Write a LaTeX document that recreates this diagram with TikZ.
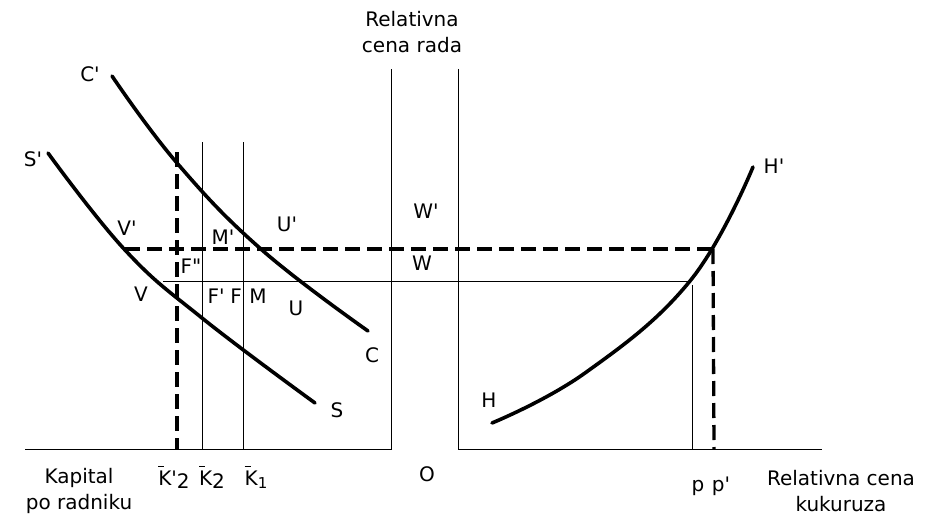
\documentclass[tikz,border=0pt]{standalone}
\usepackage{fontspec}
\setmainfont{DejaVu Sans}
\newcommand{\kbar}{\rlap{\raisebox{0.9em}{\rule{0.3em}{0.07em}}}K}
\newcommand{\qq}{\textquotesingle}
\begin{document}
\begin{tikzpicture}[x=1pt,y=-1pt,
  thinln/.style={line width=0.9pt},
  curveln/.style={line width=3.6pt, line cap=round},
  dashln/.style={line width=3.3pt, dash pattern=on 15pt off 7pt},
  lbl/.style={inner sep=0pt, font=\fontsize{20}{26}\selectfont},
  lbltwo/.style={lbl, align=center}]
\useasboundingbox (0,0) rectangle (936,516);
% coordinates
\coordinate (LB) at (25,449);
\coordinate (LR) at (391,449);
\coordinate (LT) at (391,69);
\coordinate (RO) at (458,449);
\coordinate (RT) at (458,69);
\coordinate (RE) at (822,449);
% axes
\draw[thinln] (LB) -- (LR) -- (LT);
\draw[thinln] (RT) -- (RO) -- (RE);
% thin verticals and horizontal
\coordinate (K2t) at (202,142); \coordinate (K2b) at (202,449);
\coordinate (K1t) at (243,142); \coordinate (K1b) at (243,449);
\draw[thinln] (K2t) -- (K2b);
\draw[thinln] (K1t) -- (K1b);
\coordinate (Ws) at (163,281); \coordinate (We) at (690,281);
\draw[thinln] (Ws) -- (We);
\coordinate (pt) at (692,285); \coordinate (pb) at (692,449);
\draw[thinln] (pt) -- (pb);
% dashed
\coordinate (Ds) at (125,249); \coordinate (De) at (713,249);
\draw[dashln] (Ds) -- (De);
\coordinate (Kdt) at (177,152); \coordinate (Kdb) at (177,449);
\draw[dashln] (Kdt) -- (Kdb);
\coordinate (pdb) at (714,449);
\draw[dashln] (De) -- (pdb);
% curves
\draw[curveln] plot[smooth, tension=0.7] coordinates {(112,76) (177,163) (262,250) (368,331)};
\draw[curveln] plot[smooth, tension=0.7] coordinates {(48,153) (125,250) (202,318) (315,403)};
\draw[curveln] plot[smooth, tension=0.7] coordinates {(492,423) (585,373) (690,281) (753,167)};
% labels
\node[lbltwo] (yl) at (412,32) {Relativna\\cena rada};
\node[lbl] (Cp) at (90,74) {C\qq};
\node[lbl] (Sp) at (33,159) {S\qq};
\node[lbl] (Wp) at (426,211) {W\qq};
\node[lbl] (W) at (422,263) {W};
\node[lbl] (Vp) at (127,228) {V\qq};
\node[lbl] (Mp) at (223,237) {M\qq};
\node[lbl] (Up) at (287,224) {U\qq};
\node[lbl] (Fpp) at (191,266) {F\textquotedbl};
\node[lbl] (V) at (141,294) {V};
\node[lbl] (Fp) at (216,296) {F\qq};
\node[lbl] (F) at (236,296) {F};
\node[lbl] (M) at (258,296) {M};
\node[lbl] (U) at (296,308) {U};
\node[lbl] (C) at (372,355) {C};
\node[lbl] (S) at (337,410) {S};
\node[lbl] (H) at (489,400) {H};
\node[lbl] (Hp) at (774,166) {H\qq};
\node[lbltwo] (xl) at (79,491) {Kapital\\po radniku};
\node[lbl, anchor=base] (K2p) at (174,485) {\kbar\qq\raisebox{-0.3ex}{2}};
\node[lbl, anchor=base] (K2) at (212,485) {\kbar\raisebox{-0.3ex}{2}};
\node[lbl, anchor=base] (K1) at (256,485) {\kbar\raisebox{-0.3ex}{\fontsize{15}{17}\selectfont 1}};
\node[lbl] (O) at (427,474) {O};
\node[lbl, anchor=base] (p) at (698,491) {p};
\node[lbl, anchor=base] (pp) at (721,491) {p\qq};
\node[lbltwo] (xr) at (841,491) {Relativna cena\\kukuruza};
\end{tikzpicture}
\end{document}
